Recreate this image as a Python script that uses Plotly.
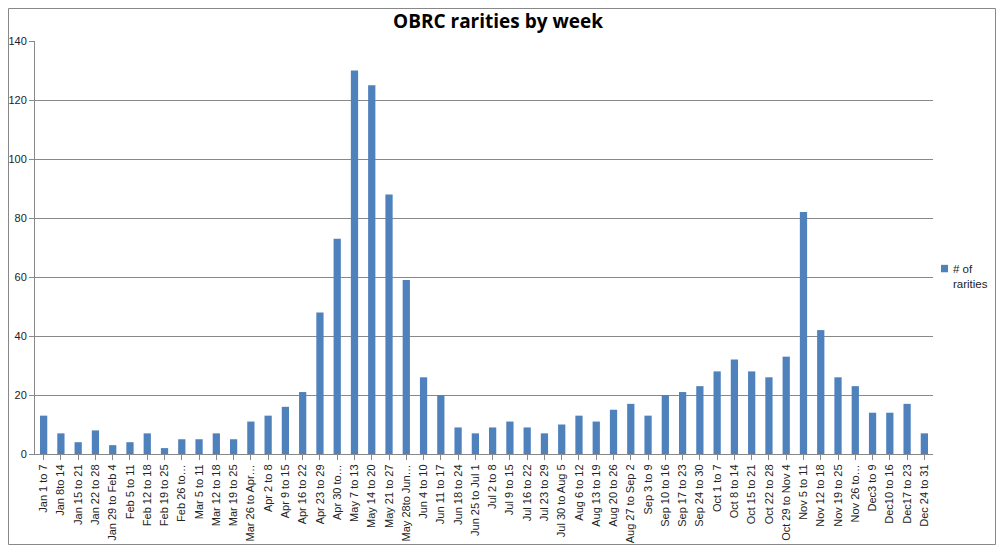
import plotly.graph_objects as go

# weekly categories as labelled on the axis (Excel truncated the long ones)
weeks = [
    "Jan 1 to 7", "Jan 8to 14", "Jan 15 to 21", "Jan 22 to 28", "Jan 29 to Feb 4",
    "Feb 5 to 11", "Feb 12 to 18", "Feb 19 to 25", "Feb 26 to…", "Mar 5 to 11",
    "Mar 12 to 18", "Mar 19 to 25", "Mar 26 to Apr…", "Apr 2 to 8", "Apr 9 to 15",
    "Apr 16 to 22", "Apr 23 to 29", "Apr 30 to…", "May 7 to 13", "May 14 to 20",
    "May 21 to 27", "May 28to Jun…", "Jun 4 to 10", "Jun 11 to 17", "Jun 18 to 24",
    "Jun 25 to Jul 1", "Jul 2 to 8", "Jul 9 to 15", "Jul 16 to 22", "Jul 23 to 29",
    "Jul 30 to Aug 5", "Aug 6 to 12", "Aug 13 to 19", "Aug 20 to 26", "Aug 27 to Sep 2",
    "Sep 3 to 9", "Sep 10 to 16", "Sep 17 to 23", "Sep 24 to 30", "Oct 1 to 7",
    "Oct 8 to 14", "Oct 15 to 21", "Oct 22 to 28", "Oct 29 to Nov 4", "Nov 5 to 11",
    "Nov 12 to 18", "Nov 19 to 25", "Nov 26 to…", "Dec3 to 9", "Dec10 to 16",
    "Dec17 to 23", "Dec 24 to 31",
]

rarities = [
    13, 7, 4, 8, 3,
    4, 7, 2, 5, 5,
    7, 5, 11, 13, 16,
    21, 48, 73, 130, 125,
    88, 59, 26, 20, 9,
    7, 9, 11, 9, 7,
    10, 13, 11, 15, 17,
    13, 20, 21, 23, 28,
    32, 28, 26, 33, 82,
    42, 26, 23, 14, 14,
    17, 7,
]

y_ticks = [0, 20, 40, 60, 80, 100, 120, 140]

series_name = "# of<br>rarities"
bar_color = "#4F81BD"

# page has an 8px body margin, so the figure is a bit smaller than the window
W, H = 988, 537
ml, mr, mt, mb = 27, 63, 33, 91
pw = W - ml - mr
ph = H - mt - mb

fig = go.Figure()
fig.add_trace(go.Bar(
    x=list(range(len(weeks))),
    y=rarities,
    name=series_name,
    marker=dict(color=bar_color, line=dict(width=0)),
    showlegend=False,
))

# Excel-style legend: a tiny square with the wrapped name right next to it
# (plotly's own legend leaves too much room between symbol and text)
legend_square = dict(type="rect", xref="paper", yref="paper",
                     x0=1 + 8 / pw, x1=1 + 15 / pw,
                     y0=0.44, y1=0.458,
                     fillcolor=bar_color, line=dict(width=0))
frame = dict(type="rect", xref="paper", yref="paper",
             x0=-(ml - 0.5) / pw, x1=1 + (mr - 0.5) / pw,
             y0=-(mb - 0.5) / ph, y1=1 + (mt - 0.5) / ph,
             line=dict(color="#888", width=1))

fig.update_layout(
    width=W, height=H,
    margin=dict(l=ml, r=mr, t=mt, b=mb),
    paper_bgcolor="white",
    plot_bgcolor="white",
    font=dict(family="Liberation Sans, Arial, sans-serif", size=11, color="#222"),
    title=dict(text="<b>OBRC rarities by week</b>", xref="container",
               x=490 / W, xanchor="center",
               y=1 - 13.5 / H, yanchor="middle",
               font=dict(family="Open Sans, sans-serif", size=19, color="black")),
    bargap=0.58,
    shapes=[frame, legend_square],
    annotations=[dict(text=series_name, xref="paper", yref="paper",
                      x=1 + 18 / pw, y=0.43, xanchor="left", yanchor="middle",
                      align="left", showarrow=False,
                      font=dict(size=11.5, color="#222"))],
)

fig.update_xaxes(
    tickmode="array",
    tickvals=list(range(len(weeks))),
    ticktext=weeks,
    tickangle=-90,
    ticks="outside", ticklen=5, tickcolor="#888",
    tickson="boundaries",
    showline=True, linecolor="#888", linewidth=1,
    showgrid=False,
    automargin=False,
    range=[-0.5, len(weeks) - 0.5],
    tickfont=dict(size=11),
)
fig.update_yaxes(
    range=[0, 140],
    tickvals=y_ticks,
    ticks="outside", ticklen=5, tickcolor="#888",
    showline=True, linecolor="#888", linewidth=1,
    showgrid=True, gridcolor="#888", gridwidth=1,
    zeroline=False,
    automargin=False,
    tickfont=dict(size=11),
)

fig.write_html("out.html")
